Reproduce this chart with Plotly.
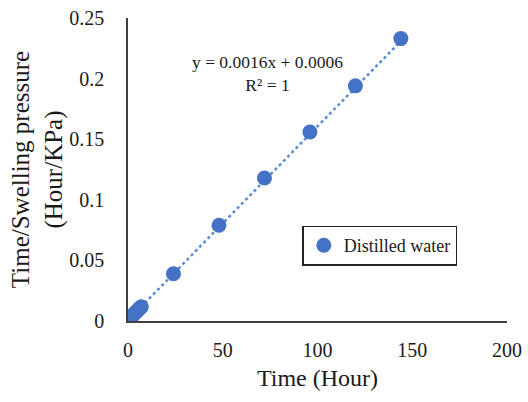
import plotly.graph_objects as go

time_hour = [0, 1, 2, 3, 4, 5, 6, 7, 24, 48, 72, 96, 120, 144]
ratio = [0.0006, 0.0022, 0.0038, 0.0054, 0.0070, 0.0086, 0.0102, 0.0118,
         0.0390, 0.0790, 0.1180, 0.1560, 0.1940, 0.2330]
slope, intercept = 0.0016, 0.0006
trend_x = [0, 144]
trend_y = [slope * x + intercept for x in trend_x]

blue = "#4472C4"
font_family = "Liberation Serif"

fig = go.Figure()
fig.add_trace(go.Scatter(x=trend_x, y=trend_y, mode="lines",
                         line=dict(color="#5B8BD0", width=2.5, dash="dot"),
                         showlegend=False, hoverinfo="skip"))
fig.add_trace(go.Scatter(x=time_hour, y=ratio, mode="markers", name="Distilled water",
                         marker=dict(color=blue, size=15)))

fig.update_layout(
    width=528, height=402,
    margin=dict(l=128, r=21, t=18, b=81),
    paper_bgcolor="white", plot_bgcolor="white",
    font=dict(family=font_family, color="#1a1a1a", size=20),
    xaxis=dict(range=[0, 200], tickvals=[0, 50, 100, 150, 200], showgrid=False,
               zeroline=False, showline=True, linecolor="#404040", linewidth=1.5,
               ticks="", automargin=False, ticklabelstandoff=10,
               title=dict(text="Time (Hour)", font=dict(size=24), standoff=9),
               tickfont=dict(size=20)),
    yaxis=dict(range=[0, 0.25], tickvals=[0, 0.05, 0.1, 0.15, 0.2, 0.25],
               ticktext=["0", "0.05", "0.1", "0.15", "0.2", "0.25"], showgrid=False,
               zeroline=False, showline=True, linecolor="#404040", linewidth=1.5,
               ticks="", automargin=False, ticklabelstandoff=18,
               title=dict(text="Time/Swelling pressure<br>(Hour/KPa)", font=dict(size=25), standoff=0),
               tickfont=dict(size=20)),
    legend=dict(x=0.46, y=0.315, xanchor="left", yanchor="top",
                bordercolor="#222222", borderwidth=1.5, bgcolor="white",
                font=dict(size=18, family=font_family), itemsizing="trace"),
    annotations=[
        dict(x=0.367, y=0.818, xref="paper", yref="paper", xanchor="center", yanchor="middle",
             showarrow=False,
             text="y = 0.0016x + 0.0006<br>R² = 1", align="center",
             font=dict(size=17.5, family=font_family, color="#1a1a1a")),
    ],
)

fig.write_html("out.html", config={"displayModeBar": False},
               post_script="document.body.style.margin='0';")
